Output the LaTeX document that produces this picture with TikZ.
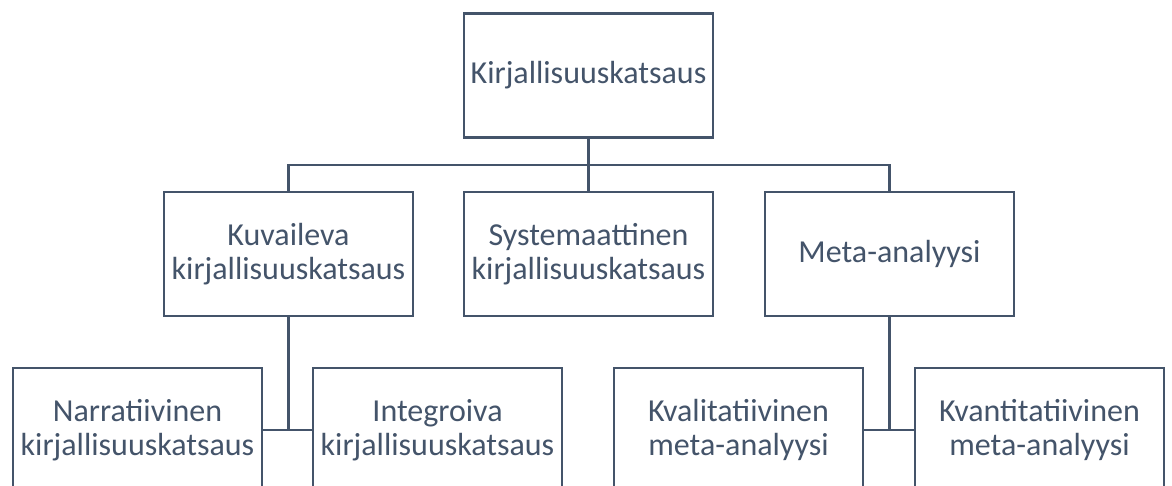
\documentclass[tikz,border=0pt]{standalone}
\usepackage{fontspec}
\setmainfont{Carlito}
\definecolor{slate}{HTML}{44546A}
\tikzset{
  box/.style={draw=slate, line width=1.3pt, fill=white, text=slate,
    minimum width=124.5pt, minimum height=62pt, align=center,
    font=\fontsize{16}{17}\selectfont},
  link/.style={draw=slate, line width=1.3pt}
}
\begin{document}
\begin{tikzpicture}[x=0.5pt,y=-0.5pt]
\clip (0,0) rectangle (1172,486);
\fill[white] (0,0) rectangle (1172,486);
% top level
\node [box] (top) at (588.5,75.5) {Kirjallisuuskatsaus};
% second level
\node [box] (kuv) at (288.5,254) {Kuvaileva\\kirjallisuuskatsaus};
\node [box] (sys) at (588.5,254) {Systemaattinen\\kirjallisuuskatsaus};
\node [box] (met) at (889.5,254) {Meta-analyysi};
% third level
\node [box] (nar) at (137.5,430) {Narratiivinen\\kirjallisuuskatsaus};
\node [box] (int) at (437.5,430) {Integroiva\\kirjallisuuskatsaus};
\node [box] (kva) at (738.5,430) {Kvalitatiivinen\\meta-analyysi};
\node [box] (kvn) at (1039.5,430) {Kvantitatiivinen\\meta-analyysi};
\coordinate (bus) at (0,165);
% connectors
\draw [link] (top.south) -- (sys.north);
\draw [link] (kuv.north) -- (kuv.north |- bus) -- (met.north |- bus) -- (met.north);
\draw [link] (kuv.south) -- (kuv.south |- nar.east);
\draw [link] (nar.east) -- (int.west);
\draw [link] (met.south) -- (met.south |- kva.east);
\draw [link] (kva.east) -- (kvn.west);
\end{tikzpicture}
\end{document}
